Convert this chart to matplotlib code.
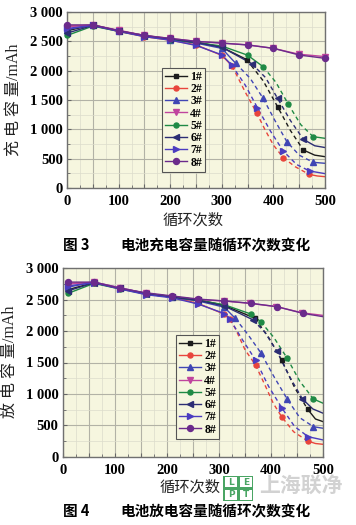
import numpy as np
import matplotlib
matplotlib.use('Agg')
import matplotlib.pyplot as plt
from matplotlib.ticker import MultipleLocator, FuncFormatter
from matplotlib.patches import Rectangle

plt.rcParams['font.family'] = ['Liberation Serif', 'Noto Sans CJK SC']

# ---- data ----
labels = ['1#', '2#', '3#', '4#', '5#', '6#', '7#', '8#']

# Fig 3 : charge capacity (mAh) vs cycles
chg_cycles = [
    [0, 50, 100, 150, 200, 250, 300, 348, 380, 408, 433, 458, 480, 500],
    [0, 50, 100, 150, 200, 250, 300, 320, 345, 368, 384, 400, 419, 442, 469, 485, 500],
    [0, 50, 100, 150, 200, 250, 300, 327, 355, 380, 403, 426, 450, 477, 500],
    [0, 50, 100, 150, 200, 250, 300, 350, 400, 450, 500],
    [0, 50, 100, 150, 200, 250, 300, 350, 380, 405, 429, 453, 477, 500],
    [0, 50, 100, 150, 200, 250, 300, 358, 385, 408, 433, 458, 480, 500],
    [0, 50, 100, 150, 200, 250, 300, 319, 345, 369, 395, 419, 445, 470, 500],
    [0, 50, 100, 150, 200, 250, 300, 350, 400, 450, 500],
]
chg_cap = [
    [2680, 2780, 2680, 2600, 2540, 2490, 2400, 2190, 1830, 1387, 980, 648, 560, 534],
    [2760, 2770, 2670, 2580, 2520, 2440, 2260, 2080, 1642, 1273, 989, 733, 517, 364, 233, 205, 193],
    [2700, 2780, 2680, 2600, 2530, 2470, 2380, 2125, 1870, 1529, 1150, 790, 560, 438, 421],
    [2750, 2780, 2690, 2600, 2550, 2500, 2470, 2440, 2380, 2280, 2240],
    [2600, 2760, 2670, 2590, 2530, 2480, 2420, 2264, 2068, 1800, 1426, 1080, 875, 847],
    [2640, 2770, 2680, 2590, 2540, 2480, 2400, 2120, 1880, 1529, 1150, 830, 720, 690],
    [2720, 2770, 2670, 2580, 2520, 2430, 2270, 2097, 1760, 1369, 960, 631, 400, 290, 245],
    [2780, 2780, 2680, 2600, 2550, 2500, 2470, 2438, 2381, 2267, 2210],
]

# Fig 4 : discharge capacity (mAh) vs cycles
dis_cycles = [
    [10, 60, 110, 160, 210, 260, 310, 369, 395, 420, 445, 470, 485, 500],
    [10, 60, 110, 160, 210, 260, 310, 321, 331, 350, 370, 388, 404, 420, 443, 470, 485, 500],
    [10, 60, 110, 160, 210, 260, 310, 331, 355, 380, 405, 431, 455, 481, 500],
    [10, 60, 110, 160, 210, 260, 310, 360, 410, 460, 500],
    [10, 60, 110, 160, 210, 260, 310, 361, 380, 405, 430, 455, 481, 500],
    [10, 60, 110, 160, 210, 260, 310, 365, 388, 411, 435, 460, 480, 500],
    [10, 60, 110, 160, 210, 260, 310, 321, 345, 370, 395, 421, 445, 471, 500],
    [10, 60, 110, 160, 210, 260, 310, 361, 411, 461, 500],
]
dis_cap = [
    [2660, 2770, 2680, 2600, 2550, 2500, 2410, 2204, 1900, 1540, 1100, 755, 600, 557],
    [2760, 2770, 2680, 2590, 2540, 2440, 2270, 2188, 2044, 1700, 1460, 1142, 850, 637, 398, 250, 210, 197],
    [2700, 2780, 2690, 2600, 2540, 2480, 2380, 2204, 1950, 1656, 1280, 914, 620, 478, 452],
    [2750, 2780, 2690, 2600, 2550, 2500, 2480, 2440, 2390, 2290, 2250],
    [2600, 2760, 2670, 2590, 2540, 2490, 2420, 2272, 2150, 1900, 1577, 1200, 919, 850],
    [2640, 2770, 2680, 2590, 2540, 2490, 2400, 2180, 1980, 1680, 1280, 919, 760, 691],
    [2720, 2770, 2670, 2580, 2530, 2430, 2280, 2188, 1860, 1540, 1120, 770, 480, 318, 266],
    [2780, 2780, 2680, 2610, 2560, 2510, 2480, 2443, 2389, 2283, 2229],
]

# ---- styles ----
colors = ['#1c1c1c', '#e8453c', '#4046b4', '#c0449e', '#1f8a45', '#2c2d74', '#4b3cc0', '#6b2b8c']
markers = ['s', 'o', '^', 'v', 'o', '<', '>', 'o']
msize = [3.3, 3.6, 3.8, 3.8, 3.6, 3.8, 3.8, 4.3]

# which points carry a marker, and which stretch is dashed
chg_marks = [list(range(8)) + [9, 11], list(range(8)) + [9, 12, 14], list(range(8)) + [9, 11, 13],
             list(range(11)), list(range(9)) + [10, 12], list(range(8)) + [9, 11],
             list(range(8)) + [9, 11, 13], list(range(11))]
chg_dash = [(7, 11), (7, 14), (7, 13), None, (8, 12), (7, 11), (7, 13), None]
dis_marks = [list(range(8)) + [9, 11], list(range(8)) + [10, 13, 15], list(range(8)) + [9, 11, 13],
             list(range(10)), list(range(9)) + [10, 12], list(range(8)) + [9, 11],
             list(range(8)) + [9, 11, 13], list(range(10))]
dis_dash = [(7, 11), (7, 15), (7, 13), None, (8, 12), (7, 11), (7, 13), None]

bg = '#f6f6df'


def draw_panel(ax, cycles, cap, marks, dash):
    ax.set_facecolor(bg)
    for k in range(8):
        x = np.array(cycles[k])
        y = np.array(cap[k])
        c = colors[k]
        if dash[k] is None:
            ax.plot(x, y, '-', color=c, lw=1.0)
        else:
            i0, i1 = dash[k]
            ax.plot(x[:i0 + 1], y[:i0 + 1], '-', color=c, lw=1.0)
            ax.plot(x[i0:i1 + 1], y[i0:i1 + 1], '--', color=c, lw=1.0, dashes=(3, 2.4))
            ax.plot(x[i1:], y[i1:], '-', color=c, lw=1.0)
        m = marks[k]
        ax.plot(x[m], y[m], ls='none', marker=markers[k], ms=msize[k],
                color=c, clip_on=False, zorder=3)
        # legend proxy
        ax.plot([], [], '-', color=c, lw=1.0, marker=markers[k], ms=msize[k], label=labels[k])

    ax.set_xlim(0, 500)
    ax.set_ylim(0, 3000)
    ax.xaxis.set_major_locator(MultipleLocator(50))
    ax.xaxis.set_minor_locator(MultipleLocator(25))
    ax.yaxis.set_major_locator(MultipleLocator(500))
    ax.yaxis.set_minor_locator(MultipleLocator(250))
    ax.xaxis.set_major_formatter(FuncFormatter(
        lambda v, p: '%d' % v if int(v) % 100 == 0 else ''))
    ax.yaxis.set_major_formatter(FuncFormatter(
        lambda v, p: '{:,}'.format(int(v)).replace(',', ' ')))
    ax.grid(which='major', color='#b2b2a6', lw=0.8)
    ax.grid(which='minor', color='#dcdccb', lw=0.5)
    ax.set_axisbelow(True)
    ax.tick_params(which='both', direction='in', color='#666666')
    ax.tick_params(which='major', length=3)
    ax.tick_params(which='minor', length=2)
    ax.tick_params(axis='x', pad=5)
    ax.tick_params(axis='y', pad=3)
    for t in ax.get_xticklabels() + ax.get_yticklabels():
        t.set_fontweight('bold')
        t.set_fontsize(10.5)
    for s in ax.spines.values():
        s.set_color('#707070')
        s.set_linewidth(1.0)


def add_legend(ax, anchor):
    leg = ax.legend(loc='upper left', bbox_to_anchor=anchor,
                    prop={'weight': 'bold', 'size': 8.5}, labelspacing=0.02,
                    handlelength=1.9, handletextpad=0.25, borderpad=0.25,
                    borderaxespad=0, fancybox=False, framealpha=1)
    leg.get_frame().set_edgecolor('#555555')
    leg.get_frame().set_facecolor(bg)
    leg.get_frame().set_linewidth(0.8)


fig = plt.figure(figsize=(3.56, 5.25), dpi=100)

ax0 = fig.add_axes([67 / 356, 1 - 188 / 525, 258 / 356, 176 / 525])
draw_panel(ax0, chg_cycles, chg_cap, chg_marks, chg_dash)
add_legend(ax0, (0.368, 0.682))

ax1 = fig.add_axes([62.7 / 356, 1 - 456.7 / 525, 260.6 / 356, 188.4 / 525])
draw_panel(ax1, dis_cycles, dis_cap, dis_marks, dis_dash)
add_legend(ax1, (0.434, 0.646))

# axis titles and captions
fig.text(15 / 356, 1 - 100 / 525, '充 电 容 量/mAh', rotation=90, fontsize=11.5,
         ha='center', va='center', color='#222222')
fig.text(193 / 356, 1 - 220 / 525, '循环次数', fontsize=11, ha='center', va='center',
         color='#222222')
fig.text(63 / 356, 1 - 245 / 525, '图 3', fontsize=10.5, fontweight='bold',
         ha='left', va='center', family=['Noto Sans CJK SC'])
fig.text(120 / 356, 1 - 245 / 525, '电池充电容量随循环次数变化', fontsize=10.5,
         fontweight='bold', ha='left', va='center', family=['Noto Sans CJK SC'])

fig.text(10 / 356, 1 - 362 / 525, '放 电 容 量/mAh', rotation=90, fontsize=11.5,
         ha='center', va='center', color='#222222')
fig.text(190 / 356, 1 - 487 / 525, '循环次数', fontsize=11, ha='center', va='center',
         color='#222222')
fig.text(63 / 356, 1 - 511 / 525, '图 4', fontsize=10.5, fontweight='bold',
         ha='left', va='center', family=['Noto Sans CJK SC'])
fig.text(120 / 356, 1 - 511 / 525, '电池放电容量随循环次数变化', fontsize=10.5,
         fontweight='bold', ha='left', va='center', family=['Noto Sans CJK SC'])

# watermark logo
lx, ly, lw_, lh = 222.7 / 356, 1 - 501 / 525, 30.6 / 356, 25.0 / 525
fig.patches.append(Rectangle((lx, ly), lw_, lh, transform=fig.transFigure,
                             facecolor='#4aa564', edgecolor='none', zorder=5))
cw, ch = lw_ * 0.40, lh * 0.40
for i, letter in enumerate(['L', 'E', 'P', 'T']):
    cx = lx + lw_ * (0.07 + 0.5 * (i % 2))
    cy = ly + lh * (0.55 - 0.5 * (i // 2))
    fig.patches.append(Rectangle((cx, cy), cw, ch, transform=fig.transFigure,
                                 facecolor='white', edgecolor='none', zorder=6))
    fig.text(cx + cw / 2, cy + ch / 2, letter, color='#4aa564', fontsize=6.5,
             fontweight='bold', ha='center', va='center', zorder=7,
             family=['DejaVu Sans'])
fig.text(301 / 356, 1 - 486 / 525, '上海联净', fontsize=15, fontweight='bold',
         color='#d2d2d2', ha='center', va='center', family=['Noto Sans CJK SC'])

fig.savefig('out.png', dpi=100)
